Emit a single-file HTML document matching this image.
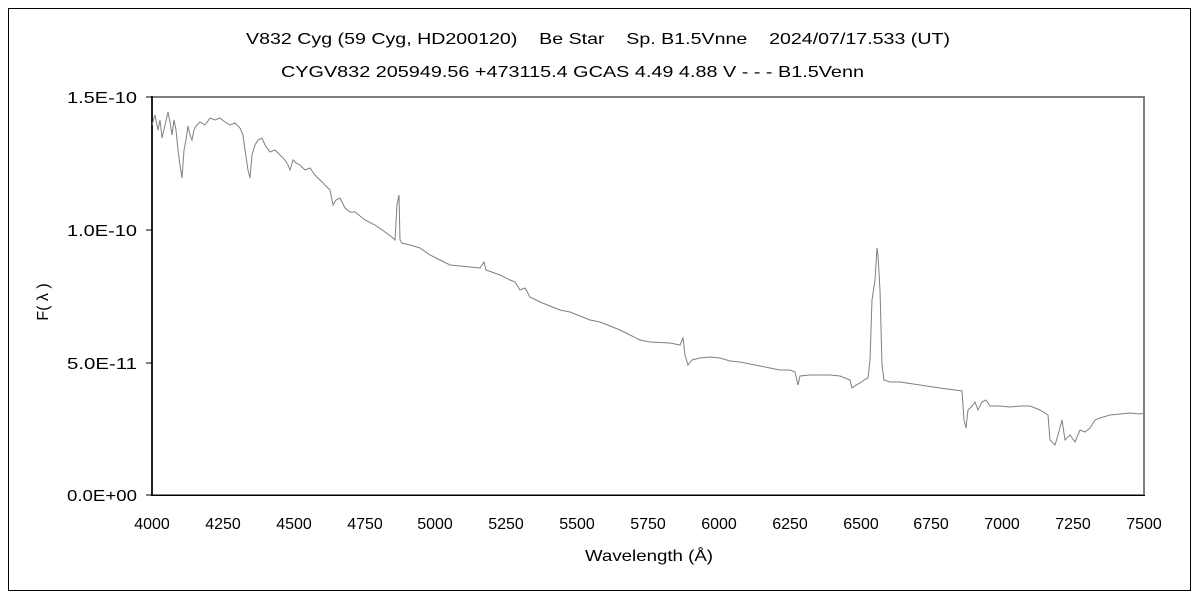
<!DOCTYPE html>
<html><head><meta charset="utf-8"><style>
body{margin:0;background:#fff;}
svg text{font-family:"Liberation Sans","Noto Sans CJK JP",sans-serif;fill:#000;}
</style></head><body>
<svg width="1200" height="600" xmlns="http://www.w3.org/2000/svg">
<rect x="8.5" y="8.5" width="1182" height="582" fill="none" stroke="#000" stroke-width="1"/>
<text x="246" y="44" font-size="16" textLength="704" lengthAdjust="spacingAndGlyphs" xml:space="preserve">V832 Cyg (59 Cyg, HD200120)    Be Star    Sp. B1.5Vnne    2024/07/17.533 (UT)</text>
<text x="281" y="77" font-size="16" textLength="583" lengthAdjust="spacingAndGlyphs">CYGV832 205949.56 +473115.4 GCAS 4.49 4.88 V - - - B1.5Venn</text>
<rect x="152" y="97" width="992" height="398" fill="none" stroke="#808080" stroke-width="2"/>
<line x1="152" y1="96" x2="152" y2="496" stroke="#000" stroke-width="1.5"/>
<line x1="151" y1="495.5" x2="1145" y2="495.5" stroke="#000" stroke-width="1"/>
<g stroke="#000" stroke-width="1">
<line x1="146" y1="97" x2="152" y2="97"/><line x1="146" y1="230" x2="152" y2="230"/><line x1="146" y1="363" x2="152" y2="363"/><line x1="146" y1="495" x2="152" y2="495"/>
</g>
<g font-size="16" text-anchor="end">
<text x="137" y="103" textLength="70" lengthAdjust="spacingAndGlyphs">1.5E-10</text><text x="137" y="236" textLength="70" lengthAdjust="spacingAndGlyphs">1.0E-10</text><text x="137" y="369" textLength="70" lengthAdjust="spacingAndGlyphs">5.0E-11</text><text x="137" y="501" textLength="70" lengthAdjust="spacingAndGlyphs">0.0E+00</text>
</g>
<g font-size="16" text-anchor="middle">
<text x="152" y="529">4000</text><text x="223" y="529">4250</text><text x="294" y="529">4500</text><text x="365" y="529">4750</text><text x="435" y="529">5000</text><text x="506" y="529">5250</text><text x="577" y="529">5500</text><text x="648" y="529">5750</text><text x="719" y="529">6000</text><text x="790" y="529">6250</text><text x="861" y="529">6500</text><text x="931" y="529">6750</text><text x="1002" y="529">7000</text><text x="1073" y="529">7250</text><text x="1144" y="529">7500</text>
</g>
<text x="585" y="561" font-size="16" textLength="128" lengthAdjust="spacingAndGlyphs">Wavelength (Å)</text>
<text x="48" y="302" font-size="16" text-anchor="middle" transform="rotate(-90 48 302)" xml:space="preserve">F( λ )</text>
<path fill="none" stroke="#808080" stroke-width="1" d="M152,125 L155,115 158,130 160,120 162,138 165,125 168,112 170,122 172,135 174,120 176,130 178,150 180,165 182,178 184,150 186,140 188,126 190,135 192,140 194,130 196,126 200,122 205,125 210,118 215,120 220,118 225,122 230,125 235,123 240,128 243,135 245,150 248,170 250,178 252,155 255,145 258,140 262,138 265,145 270,152 275,150 285,160 288,165 290,170 293,160 296,163 300,165 305,170 310,168 315,175 320,180 325,185 330,190 333,205 336,200 340,198 345,208 350,212 355,212 365,220 375,225 385,232 393,238 395,240 397,205 399,195 400,240 402,243 410,245 420,248 430,255 440,260 450,265 470,267 480,268 484,262 486,270 500,275 510,280 515,282 520,290 525,288 530,297 540,302 550,306 560,310 570,312 580,316 590,320 600,322 610,326 620,330 630,335 640,340 650,342 670,343 680,345 683,338 685,355 688,365 692,360 700,358 710,357 720,358 730,361 740,362 750,364 760,366 770,368 780,370 790,370 795,372 798,385 800,376 810,375 830,375 840,376 850,380 852,388 856,385 860,383 864,380 868,378 870,360 872,300 875,280 877,248 878,255 880,290 882,365 884,380 890,382 900,382 920,385 940,388 955,390 962,391 964,420 966,428 968,410 972,406 975,402 978,410 982,402 986,400 990,406 1000,406 1010,407 1020,406 1030,406 1040,410 1048,415 1050,440 1055,445 1058,435 1062,420 1065,440 1070,435 1075,442 1080,430 1085,432 1090,428 1095,420 1100,418 1110,415 1120,414 1130,413 1140,414 1144,413"/>
</svg>
</body></html>
